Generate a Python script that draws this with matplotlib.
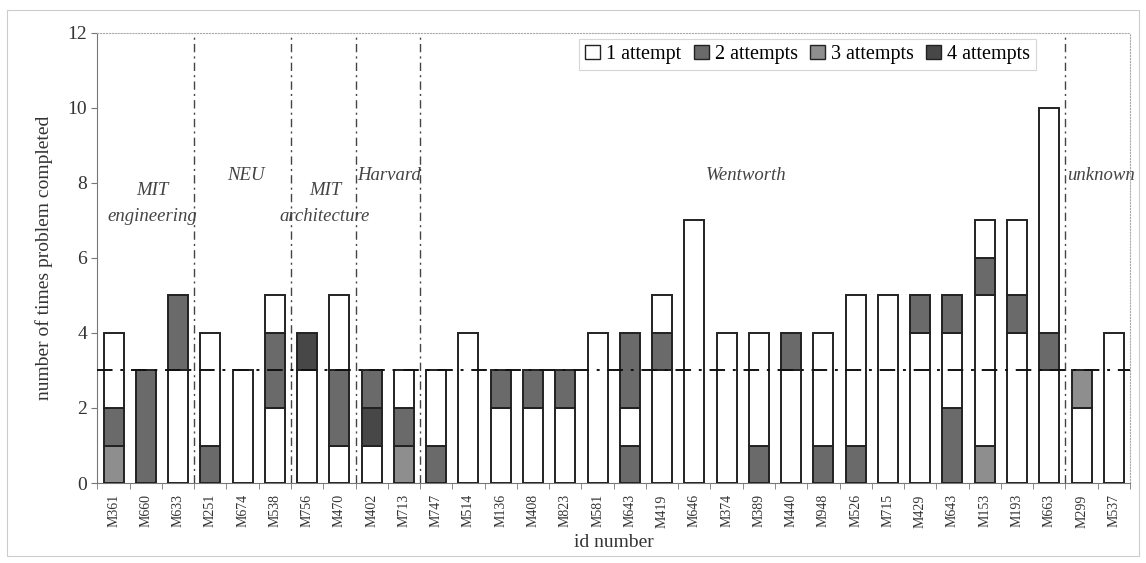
import numpy as np
import matplotlib.pyplot as plt
from matplotlib.patches import Patch, Rectangle

# id numbers along the x axis
ids = ['M361', 'M660', 'M633', 'M251', 'M674', 'M538', 'M756', 'M470',
       'M402', 'M713', 'M747', 'M514', 'M136', 'M408', 'M823', 'M581',
       'M643', 'M419', 'M646', 'M374', 'M389', 'M440', 'M948', 'M526',
       'M715', 'M429', 'M643', 'M153', 'M193', 'M663', 'M299', 'M537']

# each completed problem stacked bottom -> top, coded by number of attempts
stacks = [
    [3, 2, 1, 1], [2, 2, 2], [1, 1, 1, 2, 2], [2, 1, 1, 1], [1, 1, 1],
    [1, 1, 2, 2, 1], [1, 1, 1, 4], [1, 2, 2, 1, 1], [1, 4, 2], [3, 2, 1],
    [2, 1, 1], [1, 1, 1, 1], [1, 1, 2], [1, 1, 2], [1, 1, 2], [1, 1, 1, 1],
    [2, 1, 2, 2], [1, 1, 1, 2, 1], [1] * 7, [1, 1, 1, 1], [2, 1, 1, 1],
    [1, 1, 1, 2], [2, 1, 1, 1], [2, 1, 1, 1, 1], [1] * 5, [1, 1, 1, 1, 2],
    [2, 2, 1, 1, 2], [3, 1, 1, 1, 1, 2, 1], [1, 1, 1, 1, 2, 1, 1],
    [1, 1, 1, 2, 1, 1, 1, 1, 1, 1], [1, 1, 3], [1, 1, 1, 1],
]

# school groups (label, number of bars)
groups = ['MIT\nengineering', 'NEU', 'MIT\narchitecture', 'Harvard',
          'Wentworth', 'unknown']
group_sizes = [3, 3, 2, 2, 20, 2]

attempt_labels = ['1 attempt', '2 attempts', '3 attempts', '4 attempts']
attempt_colors = {1: 'white', 2: '#6a6a6a', 3: '#8e8e8e', 4: '#474747'}
expected = 3

plt.rcParams['font.family'] = ['Liberation Serif', 'DejaVu Serif']

fig = plt.figure(figsize=(11.46, 5.63), dpi=100)
ax = fig.add_axes([0.085, 0.142, 0.901, 0.8])

x = np.arange(len(ids))
width = 0.62
for xi, stack in zip(x, stacks):
    # merge runs of the same attempt count into one block
    level = 0
    i = 0
    while i < len(stack):
        j = i
        while j < len(stack) and stack[j] == stack[i]:
            j += 1
        ax.bar(xi, j - i, bottom=level, width=width,
               color=attempt_colors[stack[i]], edgecolor='#222222',
               linewidth=1.4, zorder=3)
        level += j - i
        i = j

# expected number line
ax.axhline(expected, color='#111111', linestyle=(0, (8, 4, 1.5, 4)),
           linewidth=1.4, zorder=4)

# group separators and labels
edges = np.cumsum(group_sizes)
start = 0
txt = dict(style='italic', fontsize=13.5, color='#444444', va='center')
for name, end in zip(groups, edges):
    if end < len(ids):
        ax.axvline(end - 0.5, color='#444444', linestyle=(0, (6, 3, 1.5, 3)),
                   linewidth=1.0, zorder=2)
    mid = (start + end - 1) / 2
    if name == 'unknown':
        ax.text(end - 2.45, 8.2, name, ha='left', **txt)
    elif name == 'Harvard':
        ax.text(start - 0.45, 8.2, name, ha='left', **txt)
    elif name.startswith('MIT\ne'):
        ax.text(mid + 0.2, 7.45, name, ha='center', linespacing=1.7, **txt)
    elif '\n' in name:
        ax.text(mid + 0.05, 7.45, name, ha='center', linespacing=1.7, **txt)
    else:
        ax.text(mid + 0.1, 8.2, name, ha='center', **txt)
    start = end

ax.set_xlim(-0.5, len(ids) - 0.5)
ax.set_ylim(0, 12)
ax.set_yticks(range(0, 13, 2))
ax.set_xticks(x)
ax.set_xticklabels(ids, rotation=90, fontsize=10, color='#333333')
ax.set_xticks(np.arange(-0.5, len(ids), 1), minor=True)
ax.tick_params(axis='x', which='major', length=0, pad=8)
ax.tick_params(axis='x', which='minor', length=4, color='#777777')
ax.tick_params(axis='y', labelsize=14, length=4, color='#777777',
               labelcolor='#333333')
ax.set_ylabel('number of times problem completed', fontsize=14,
              color='#333333', labelpad=10)
ax.set_xlabel('id number', fontsize=14, color='#333333', labelpad=5)

for side in ['left', 'bottom']:
    ax.spines[side].set_color('#777777')
for side in ['top', 'right']:
    ax.spines[side].set_color('#aaaaaa')
    ax.spines[side].set_linestyle(':')

handles = [Patch(facecolor=attempt_colors[i + 1], edgecolor='#222222',
                 label=lab) for i, lab in enumerate(attempt_labels)]
leg = ax.legend(handles=handles, loc='upper right', ncol=4, fontsize=14.5,
                bbox_to_anchor=(0.915, 1.0), frameon=True, fancybox=False,
                handlelength=0.75, handleheight=0.75, handletextpad=0.3,
                columnspacing=0.6, borderpad=0.3, borderaxespad=0.3)
leg.get_frame().set_edgecolor('#cccccc')
leg.get_frame().set_linewidth(0.8)

# faint outer border of the chart area
fig.patches.append(Rectangle((0.006, 0.012), 0.988, 0.97,
                             transform=fig.transFigure, fill=False,
                             edgecolor='#cccccc', linewidth=0.8))

fig.savefig('out.png', dpi=100)
